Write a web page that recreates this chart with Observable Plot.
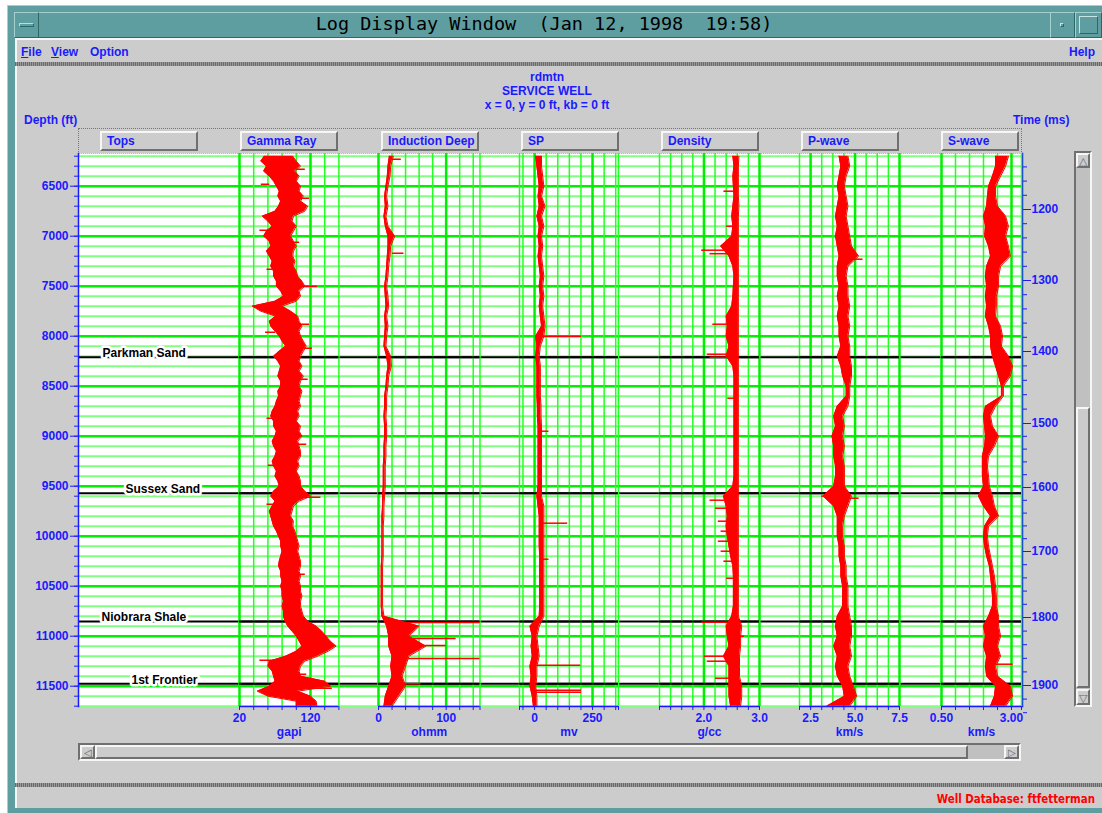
<!DOCTYPE html>
<html><head><meta charset="utf-8">
<script src="https://cdn.jsdelivr.net/npm/d3@7"></script>
<script src="https://cdn.jsdelivr.net/npm/@observablehq/plot@0.6"></script>
<style>
html,body{margin:0;padding:0;background:#fff}
#root{position:relative;width:1102px;height:813px;overflow:hidden;font-family:"Liberation Sans",Arial,sans-serif}
.a{position:absolute;box-sizing:border-box}
.bt{color:#1a1aff;font-weight:bold;font-size:12px;white-space:nowrap;font-family:"Liberation Sans",Arial,sans-serif}
.raised{background:#cccccc;border-top:2px solid #f6f6f6;border-left:2px solid #f6f6f6;border-right:2px solid #707070;border-bottom:2px solid #707070}
.sunken{border-top:2px solid #707070;border-left:2px solid #707070;border-right:2px solid #f6f6f6;border-bottom:2px solid #f6f6f6}
.sep{background:repeating-linear-gradient(90deg,#6a6a6a 0 1px,#9a9a9a 1px 2px)}
svg.ov{position:absolute;left:0;top:0;pointer-events:none}
</style></head>
<body><div id="root"></div>
<script>
// ---------------- DATA ----------------
// Gamma ray envelope, sampled every 50 ft from 6200 ft
const grStart = 6200, grStep = 50;
const grLo = [55,50,58,54,62,68,72,76,74,78, 75,70,52,60,66,58,54,62,64,58, 62,66,64,68,68,72,72,78,82,70, 38,50,71,62,64,70,76,80,85,76, 68,74,78,76,74,78,78,74,75,72, 70,66,64,68,68,72,70,66,68,72, 70,66,68,72,70,74,76,68,64,70, 66,62,64,66,68,72,75,78,78,80, 78,76,75,78,78,80,78,80,80,82, 80,82,82,84,88,94,100,104,108,100, 85,62,60,66,68,70,62,45,60,100, 100];
const grHi = [95,100,106,98,104,100,106,104,110,106, 116,112,96,94,100,96,92,96,100,96, 95,98,96,100,102,108,112,104,106,100, 80,92,102,104,108,104,106,110,114,110, 106,104,108,104,110,106,104,108,106,104, 106,102,104,100,106,104,108,102,104,106, 106,102,104,100,104,106,106,112,120,104, 96,94,92,96,95,98,100,102,104,102, 104,106,106,104,106,104,106,106,108,106, 106,108,110,116,128,136,142,148,156,145, 130,112,106,104,106,140,148,102,120,128, 129];
const grSpikes = [[6330,100,112],[6480,62,50],[6620,100,118],[6940,60,48],[7060,90,104],[7330,70,58],[7500,100,129],[7880,100,118],[7960,70,56],[8120,105,122],[8430,100,116],[8820,70,58],[9080,100,114],[9290,70,60],[9610,100,134],[9680,70,58],[10380,100,112],[11240,70,48],[11380,100,114],[11520,80,150]];

// other curves, sampled every 100 ft from 6200 ft
const logStart = 6200, logStep = 100;
const idLo = [16,14,13,11,9,10,8,10,14,14,13,12,11,9,10,11,9,10,9,8,12,14,12,11,9,9,8,9,9,8,8,7,7,7,6,6,5,5,5,5,5,4,4,4,4,4,5,12,15,15,20,18,20,15,10,8];
const idHi = [22,18,17,14,12,14,11,14,24,18,17,15,14,12,14,15,12,14,12,11,18,19,15,14,12,12,11,12,12,11,11,10,10,10,9,8,8,7,7,7,7,6,6,6,6,6,8,60,45,70,45,40,35,40,30,20];
const idSpikes = [[6230,20,33],[7170,20,37],[10863,30,150],[11023,30,114],[11093,30,99],[11223,30,150],[11476,25,62]];

const spLo = [5,10,15,20,15,20,10,20,15,20,15,20,25,20,25,20,25,30,5,10,5,10,10,10,10,12,12,15,15,15,15,15,15,15,10,15,20,20,20,20,22,22,22,22,22,22,20,-20,-10,-15,-10,-20,-15,-20,-10,-5];
const spHi = [30,30,35,40,30,45,30,40,30,35,30,35,40,35,40,35,40,45,40,25,20,25,25,25,25,28,28,30,30,30,30,30,30,30,30,40,40,40,40,40,40,40,40,40,40,40,40,20,10,15,20,10,10,5,10,10];
const spSpikes = [[8000,20,200],[8950,20,60],[9870,30,141],[10230,30,60],[11290,-10,197],[11540,-10,200],[11560,-10,200]];

const rhoLo = [2.52,2.54,2.52,2.53,2.54,2.52,2.50,2.52,2.50,2.30,2.45,2.52,2.54,2.53,2.52,2.50,2.40,2.42,2.40,2.45,2.40,2.52,2.54,2.54,2.54,2.54,2.54,2.54,2.54,2.54,2.54,2.54,2.54,2.52,2.35,2.40,2.42,2.40,2.42,2.45,2.48,2.52,2.53,2.53,2.53,2.53,2.50,2.40,2.42,2.45,2.35,2.45,2.45,2.45,2.45,2.48];
const rhoHi = [2.63,2.62,2.62,2.62,2.62,2.63,2.62,2.62,2.62,2.62,2.62,2.62,2.62,2.62,2.62,2.62,2.62,2.62,2.62,2.62,2.62,2.62,2.62,2.62,2.62,2.62,2.62,2.62,2.62,2.62,2.62,2.62,2.62,2.62,2.62,2.62,2.62,2.62,2.62,2.62,2.62,2.62,2.62,2.62,2.62,2.62,2.62,2.68,2.66,2.66,2.64,2.64,2.64,2.68,2.68,2.66];
const rhoSpikes = [[6550,2.55,2.35],[6900,2.55,2.4],[7140,2.5,1.95],[7175,2.5,2.1],[7880,2.5,2.15],[8180,2.5,2.05],[8210,2.5,2.1],[8620,2.55,2.42],[9640,2.5,2.1],[9720,2.5,2.2],[9850,2.5,2.25],[9950,2.55,2.3],[10050,2.5,2.25],[10150,2.55,2.3],[10250,2.55,2.35],[10420,2.55,2.4],[10860,2.5,1.95],[11000,2.6,2.72],[11200,2.5,2.0],[11250,2.45,2.05],[11420,2.55,2.2]];

const vpLo = [4.1,4.2,4.1,4.0,4.1,4.0,3.9,4.0,3.9,4.0,4.1,4.0,4.0,4.1,4.0,4.1,4.0,4.1,4.1,4.2,4.0,4.2,4.3,4.5,4.5,4.0,3.8,3.9,3.7,3.8,3.8,3.9,3.9,3.8,3.2,3.8,4.0,4.0,4.0,4.1,4.1,4.2,4.2,4.3,4.3,4.3,4.0,3.9,4.0,3.8,4.0,3.9,4.0,4.3,4.4,3.4];
const vpHi = [4.6,4.7,4.5,4.4,4.5,4.6,4.5,4.6,4.7,4.8,5.2,4.6,4.5,4.6,4.6,4.7,4.6,4.7,4.6,4.7,4.7,4.8,4.8,4.7,4.7,4.6,4.3,4.4,4.3,4.4,4.3,4.4,4.4,4.4,4.8,4.6,4.4,4.3,4.3,4.4,4.4,4.5,4.5,4.6,4.6,4.6,4.7,4.8,4.8,4.7,4.8,4.6,4.7,4.9,5.1,4.7];
const vpSpikes = [[7230,4.6,5.42],[9600,4.0,3.1],[9620,4.5,5.2]];

const vsLo = [2.43,2.43,2.32,2.18,2.14,2.11,2.0,2.07,2.04,2.18,2.25,2.11,2.07,2.11,2.07,2.11,2.07,2.18,2.25,2.25,2.32,2.43,2.54,2.64,2.64,2.07,2.0,2.04,2.07,2.04,1.96,1.96,1.96,2.0,1.82,2.0,2.25,2.04,2.0,2.04,2.11,2.21,2.25,2.29,2.32,2.32,2.18,2.0,2.07,2.0,2.11,2.07,2.11,2.43,2.39,2.25];
const vsHi = [2.89,2.79,2.61,2.43,2.43,2.50,2.79,2.89,2.79,2.89,2.96,2.61,2.54,2.54,2.46,2.46,2.43,2.61,2.68,2.64,2.89,3.04,2.96,2.71,2.71,2.43,2.25,2.32,2.54,2.39,2.18,2.14,2.18,2.21,2.32,2.39,2.54,2.18,2.14,2.18,2.25,2.32,2.39,2.43,2.46,2.46,2.54,2.54,2.61,2.50,2.61,2.43,2.50,2.96,3.04,2.79];
const vsSpikes = [[11280,2.4,3.04]];

const topNames = ["Parkman Sand","Sussex Sand","Niobrara Shale","1st Frontier"];
const topDepths = [8210, 9570, 10853, 11476];
const timeTicks = [1200,1300,1400,1500,1600,1700,1800,1900];      // ms
const timeDepths = [6733,7443,8153,8873,9513,10153,10813,11493];   // ft at those times
const depthLabels = [6500,7000,7500,8000,8500,9000,9500,10000,10500,11000,11500];
const trackNames = ["Tops","Gamma Ray","Induction Deep","SP","Density","P-wave","S-wave"];
const units = ["gapi","ohmm","mv","g/cc","km/s","km/s"];

// ---------------- LAYOUT ----------------
const BLUE = "#1a1aff", RED = "#ff0000";
const W = 1102, H = 760, MT = 153, MB = 54;
const yDomain = [6173, 11703];
const root = document.getElementById("root");
function box(css, html = "", cls = "a") { const d = document.createElement("div"); d.className = cls; d.style.cssText = css; d.innerHTML = html; root.appendChild(d); return d; }

// window chrome
box("left:7px;top:5px;width:1095px;height:808px;background:#5f9ea0;border-left:1px solid #a6d0d0;border-top:1px solid #a6d0d0");
box("left:14px;top:12px;width:1088px;height:26px;background:#5f9ea0;border:1px solid #2f6666;border-top-color:#a6d0d0;border-left-color:#a6d0d0");
box("left:14px;top:12px;width:25px;height:26px;border:1px solid #2f6666;border-top-color:#a6d0d0;border-left-color:#a6d0d0");
box("left:19px;top:23px;width:15px;height:4px;border:1px solid #2f6666;border-top-color:#b8dddd;border-left-color:#b8dddd");
box("left:38px;top:11px;width:1012px;height:26px;line-height:26px;text-align:center;font-size:18.5px;font-family:'DejaVu Sans Mono',monospace;color:#000;white-space:pre", "Log Display Window  (Jan 12, 1998  19:58)");
box("left:1050px;top:12px;width:25px;height:26px;border:1px solid #2f6666;border-top-color:#a6d0d0;border-left-color:#a6d0d0");
box("left:1060px;top:23px;width:4px;height:4px;border:1px solid #2f6666;border-top-color:#c8e4e4;border-left-color:#c8e4e4");
box("left:1075px;top:12px;width:27px;height:26px;border:1px solid #2f6666;border-top-color:#a6d0d0;border-left-color:#a6d0d0");
box("left:1079px;top:16px;width:19px;height:18px;border:1px solid #2f6666;border-top-color:#c8e4e4;border-left-color:#c8e4e4");
// menu bar
box("left:15px;top:38px;width:1087px;height:25px;background:#cccccc;border-top:2px solid #f6f6f6;border-left:2px solid #f6f6f6");
box("left:21px;top:45px", "<u>F</u>ile", "a bt");
box("left:51px;top:45px", "<u>V</u>iew", "a bt");
box("left:90px;top:45px", "Option", "a bt");
box("left:1069px;top:45px", "Help", "a bt");
box("left:15px;top:62px;width:1087px;height:4px", "", "a sep");
// main panel
box("left:15px;top:66px;width:1087px;height:717px;background:#cccccc;border-left:2px solid #f6f6f6");
box("left:15px;top:783px;width:1087px;height:4px", "", "a sep");
box("left:15px;top:787px;width:1087px;height:21px;background:#cccccc;border-left:2px solid #f6f6f6");
box("left:900px;top:792px;width:195px;text-align:right;color:#ff0000;font-weight:bold;font-size:12px;font-family:'Liberation Sans Narrow','DejaVu Sans Condensed',sans-serif;transform:scaleX(0.95);transform-origin:right", "Well Database: ftfetterman");
// headers
box("left:347px;top:70px;width:400px;text-align:center;line-height:14px", "rdmtn<br>SERVICE WELL<br>x = 0, y = 0 ft, kb = 0 ft", "a bt");
box("left:24px;top:113px", "Depth (ft)", "a bt");
box("left:1013px;top:113px", "Time (ms)", "a bt");
// track button bar
box("left:78px;top:128px;width:944px;height:26px;border:1px dotted #777");
const btnX = [100, 240, 381, 521, 661, 801, 941];
const btnW = [98, 98, 98, 98, 98, 98, 78];
trackNames.forEach((n, i) => box(`left:${btnX[i]}px;top:131px;width:${btnW[i]}px;height:20px;padding-left:5px;line-height:16px`, n, "a raised bt"));
// scrollbars
box("left:1074px;top:151px;width:18px;height:556px;background:#c0c0c0", "", "a sunken");
box("left:1076px;top:153px;width:14px;height:15px;font-size:11px;line-height:13px;text-align:center;color:#666", "△", "a raised");
box("left:1076px;top:407px;width:14px;height:281px", "", "a raised");
box("left:1076px;top:689px;width:14px;height:16px;font-size:11px;line-height:14px;text-align:center;color:#666", "▽", "a raised");
box("left:78px;top:743px;width:943px;height:18px;background:#c0c0c0", "", "a sunken");
box("left:80px;top:745px;width:15px;height:14px;font-size:10px;line-height:12px;text-align:center;color:#666", "◁", "a raised");
box("left:95px;top:745px;width:873px;height:14px", "", "a raised");
box("left:1004px;top:745px;width:15px;height:14px;font-size:10px;line-height:12px;text-align:center;color:#666", "▷", "a raised");

// ---------------- PLOTS ----------------
function overlay(svg) { svg.classList.add("ov"); root.appendChild(svg); }
const baseStyle = { background: "transparent", color: BLUE, fontFamily: "Liberation Sans, Arial, sans-serif", fontSize: "12px", fontWeight: "bold", overflow: "visible" };
const t2d = d3.scaleLinear(timeTicks, timeDepths);
const minorTime = d3.range(1140, 1941, 20).map(t2d);
const gridDepths = d3.range(6200, 11701, 100);
const labelDx = [24, 47, 23, 53];

overlay(Plot.plot({
  width: W, height: H, marginTop: MT, marginBottom: MB, marginLeft: 78, marginRight: W - 1022,
  y: { domain: yDomain, reverse: true, axis: null },
  style: baseStyle,
  marks: [
    Plot.frame({ fill: "white", stroke: null }),
    Plot.ruleY(gridDepths.filter(d => d % 500), { stroke: "#80ff80", strokeWidth: 2 }),
    Plot.ruleY(gridDepths.filter(d => d % 500 === 0), { stroke: "#00f000", strokeWidth: 2.5 }),
    Plot.ruleY(topDepths, { stroke: "black", strokeWidth: 2 }),
    ...topNames.map((n, i) => Plot.text([n], { y: [topDepths[i]], text: d => d, frameAnchor: "left", textAnchor: "start", dx: labelDx[i], dy: -4, fill: "black", stroke: "white", strokeWidth: 5, fontSize: 12, fontWeight: "bold" })),
    Plot.frame({ anchor: "left", stroke: BLUE, strokeWidth: 1.5 }),
    Plot.frame({ anchor: "right", stroke: BLUE, strokeWidth: 1.5 }),
    Plot.axisY(gridDepths, { anchor: "left", tickSize: 4, tickFormat: () => "", label: null }),
    Plot.axisY(depthLabels, { anchor: "left", tickSize: 8, tickPadding: 2, tickFormat: "d", fontSize: 12, fontWeight: "bold", label: null }),
    Plot.axisY(minorTime, { anchor: "right", tickSize: 4, tickFormat: () => "", label: null }),
    Plot.axisY(timeDepths, { anchor: "right", tickSize: 8, tickPadding: 1, tickFormat: d => String(Math.round(t2d.invert(d))), fontSize: 12, fontWeight: "bold", label: null })
  ]
}));

const tracks = [
  { x0: 239, x1: 338.4, domain: [20, 160], ticks: d3.range(20, 161, 20), labels: [20, 120], fmt: "d", start: grStart, step: grStep, lo: grLo, hi: grHi, spikes: grSpikes },
  { x0: 378, x1: 479.5, domain: [0, 150], ticks: [...d3.range(0, 141, 20), 150], labels: [0, 100], fmt: "d", start: logStart, step: logStep, lo: idLo, hi: idHi, spikes: idSpikes },
  { x0: 519, x1: 618, domain: [-65, 362], ticks: [-65, ...d3.range(-50, 351, 50), 362], labels: [0, 250], fmt: "d", start: logStart, step: logStep, lo: spLo, hi: spHi, spikes: spSpikes },
  { x0: 659, x1: 759, domain: [1.2, 3.0], ticks: d3.range(0, 10).map(k => 1.2 + 0.2 * k), labels: [2.0, 3.0], fmt: ".1f", start: logStart, step: logStep, lo: rhoLo, hi: rhoHi, spikes: rhoSpikes },
  { x0: 799, x1: 899, domain: [1.875, 7.5], ticks: d3.range(0, 10).map(k => 1.875 + 0.625 * k), labels: [2.5, 5.0, 7.5], fmt: ".1f", start: logStart, step: logStep, lo: vpLo, hi: vpHi, spikes: vpSpikes },
  { x0: 941, x1: 1021, domain: [0.5, 3.357], ticks: [0.5, 1.0, 1.5, 2.0, 2.5, 3.0, 3.357], labels: [0.5, 3.0], fmt: ".2f", start: logStart, step: logStep, lo: vsLo, hi: vsHi, spikes: vsSpikes }
];

tracks.forEach((t, ti) => {
  const rows = t.lo.map((v, i) => ({ depth: t.start + i * t.step, lo: v, hi: t.hi[i] }));
  const isLab = v => t.labels.some(l => Math.abs(l - v) < 1e-6);
  const f = d3.format(t.fmt);
  overlay(Plot.plot({
    width: W, height: H, marginTop: MT, marginBottom: MB, marginLeft: t.x0, marginRight: W - t.x1,
    x: { domain: t.domain, axis: null },
    y: { domain: yDomain, reverse: true, axis: null },
    style: baseStyle,
    marks: [
      Plot.ruleX(t.ticks.filter(v => !isLab(v)), { stroke: "#22ff22", strokeWidth: 1.5 }),
      Plot.ruleX(t.labels, { stroke: "#00ee00", strokeWidth: 2.5 }),
      Plot.ruleY(topDepths, { stroke: "black", strokeWidth: 2 }),
      Plot.areaX(rows, { y: "depth", x1: "lo", x2: "hi", fill: RED, clip: true }),
      Plot.lineX(rows, { x: "lo", y: "depth", stroke: RED, strokeWidth: 1, clip: true }),
      Plot.lineX(rows, { x: "hi", y: "depth", stroke: RED, strokeWidth: 1, clip: true }),
      Plot.link(t.spikes, { x1: d => d[1], x2: d => d[2], y1: d => d[0], y2: d => d[0], stroke: RED, strokeWidth: 1.5, clip: true }),
      Plot.ruleY([yDomain[1]], { stroke: BLUE, strokeWidth: 1.5 }),
      Plot.axisX(t.ticks, { anchor: "bottom", tickSize: 4, tickPadding: 3, tickFormat: v => isLab(v) ? f(v) : "", fontSize: 12, fontWeight: "bold", label: null }),
      Plot.text([units[ti]], { text: d => d, frameAnchor: "bottom", dy: 29, fill: BLUE, fontSize: 12, fontWeight: "bold" })
    ]
  }));
});
</script></body></html>
